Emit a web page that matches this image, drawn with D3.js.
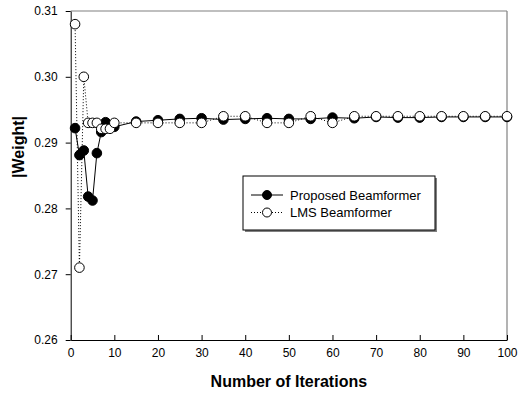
<!DOCTYPE html>
<html>
<head>
<meta charset="utf-8">
<script src="https://cdn.jsdelivr.net/npm/d3@7"></script>
<style>
  body { margin: 0; background: #fff; }
  svg { display: block; font-family: "Liberation Sans", Arial, sans-serif; }
</style>
</head>
<body>
<svg id="chart" width="519" height="395"></svg>
<script>
// iteration numbers sampled
var iterations = [1, 2, 3, 4, 5, 6, 7, 8, 9, 10,
    15, 20, 25, 30, 35, 40, 45, 50, 55, 60, 65, 70, 75, 80, 85, 90, 95, 100];

var proposed = [0.2922, 0.2881, 0.2888, 0.2818, 0.2812, 0.2884, 0.2916, 0.2931, 0.2925, 0.2924,
    0.2932, 0.2934, 0.2936, 0.2937, 0.2935, 0.2936, 0.2937, 0.2936, 0.2936, 0.2938,
    0.2937, 0.2939, 0.2938, 0.2938, 0.2939, 0.2939, 0.2939, 0.2939];

var lms = [0.308, 0.271, 0.300, 0.2930, 0.2930, 0.2930, 0.2921, 0.2921, 0.2921, 0.2930,
    0.2930, 0.2930, 0.2930, 0.2930, 0.2940, 0.2940, 0.2930, 0.2930, 0.2940, 0.2930,
    0.2940, 0.2940, 0.2940, 0.2940, 0.2940, 0.2940, 0.2940, 0.2940];

var xTicks = [0, 10, 20, 30, 40, 50, 60, 70, 80, 90, 100];
var yTicks = [0.26, 0.27, 0.28, 0.29, 0.30, 0.31];
var seriesNames = ["Proposed Beamformer", "LMS Beamformer"];

var margin = { top: 11, right: 12, bottom: 55, left: 70.7 },
    width = 519 - margin.left - margin.right,
    height = 395 - margin.top - margin.bottom;

var svg = d3.select("#chart");
var g = svg.append("g")
    .attr("transform", "translate(" + margin.left + "," + margin.top + ")");

var x = d3.scaleLinear().domain([0, 100]).range([0, width]);
var y = d3.scaleLinear().domain([0.26, 0.31]).range([height, 0]);

// frame: top and right in grey
g.append("line")
    .attr("x1", 0).attr("x2", width).attr("y1", 0).attr("y2", 0)
    .attr("stroke", "#808080").attr("stroke-width", 1.2);
g.append("line")
    .attr("x1", width).attr("x2", width).attr("y1", 0).attr("y2", height)
    .attr("stroke", "#808080").attr("stroke-width", 1.2);

var xAxis = d3.axisBottom(x)
    .tickValues(xTicks)
    .tickSize(-5)
    .tickSizeOuter(0)
    .tickPadding(8)
    .tickFormat(d3.format("d"));

var yAxis = d3.axisLeft(y)
    .tickValues(yTicks)
    .tickSize(5)
    .tickSizeOuter(0)
    .tickPadding(8)
    .tickFormat(d3.format(".2f"));

var gx = g.append("g")
    .attr("transform", "translate(0," + height + ")")
    .call(xAxis);
var gy = g.append("g").call(yAxis);

[gx, gy].forEach(function (a) {
    a.selectAll("text").attr("font-size", 12).attr("fill", "#000")
        .attr("font-family", "'Liberation Sans', Arial, sans-serif");
    a.selectAll("line").attr("stroke", "#000");
    a.select(".domain").attr("stroke", "#000");
});

// titles
svg.append("text")
    .attr("x", margin.left + width / 2)
    .attr("y", 387)
    .attr("text-anchor", "middle")
    .attr("font-size", 16)
    .attr("font-weight", "bold")
    .text("Number of Iterations");

svg.append("text")
    .attr("transform", "translate(24,147) rotate(-90)")
    .attr("text-anchor", "middle")
    .attr("font-size", 16)
    .attr("font-weight", "bold")
    .text("|Weight|");

var pts1 = iterations.map(function (d, i) { return [d, proposed[i]]; });
var pts2 = iterations.map(function (d, i) { return [d, lms[i]]; });

var line = d3.line()
    .x(function (d) { return x(d[0]); })
    .y(function (d) { return y(d[1]); });

g.append("path").datum(pts1)
    .attr("d", line)
    .attr("fill", "none")
    .attr("stroke", "#000")
    .attr("stroke-width", 1);

g.selectAll(".dot1")
    .data(pts1)
    .enter()
    .append("circle")
    .attr("class", "dot1")
    .attr("cx", function (d) { return x(d[0]); })
    .attr("cy", function (d) { return y(d[1]); })
    .attr("r", 4.8)
    .attr("fill", "#000")
    .attr("stroke", "#000");

g.append("path").datum(pts2)
    .attr("d", line)
    .attr("fill", "none")
    .attr("stroke", "#000")
    .attr("stroke-width", 1)
    .attr("stroke-dasharray", "1,2");

g.selectAll(".dot2")
    .data(pts2)
    .enter()
    .append("circle")
    .attr("class", "dot2")
    .attr("cx", function (d) { return x(d[0]); })
    .attr("cy", function (d) { return y(d[1]); })
    .attr("r", 4.8)
    .attr("fill", "#fff")
    .attr("stroke", "#000");

// legend
var lg = svg.append("g").attr("transform", "translate(243,176)");
lg.append("rect")
    .attr("x", 2).attr("y", 2).attr("width", 192).attr("height", 54)
    .attr("fill", "#808080");
lg.append("rect")
    .attr("x", 0).attr("y", 0).attr("width", 192).attr("height", 54)
    .attr("fill", "#fff").attr("stroke", "#000");

seriesNames.forEach(function (name, i) {
    var yy = 19 + i * 17.5;
    lg.append("line")
        .attr("x1", 8).attr("x2", 40).attr("y1", yy).attr("y2", yy)
        .attr("stroke", "#000")
        .attr("stroke-dasharray", i === 0 ? null : "1,2");
    lg.append("circle")
        .attr("cx", 24).attr("cy", yy).attr("r", 4.5)
        .attr("fill", i === 0 ? "#000" : "#fff")
        .attr("stroke", "#000");
    lg.append("text")
        .attr("x", 47).attr("y", yy + 4.5)
        .attr("font-size", 13)
        .text(name);
});
</script>
</body>
</html>
